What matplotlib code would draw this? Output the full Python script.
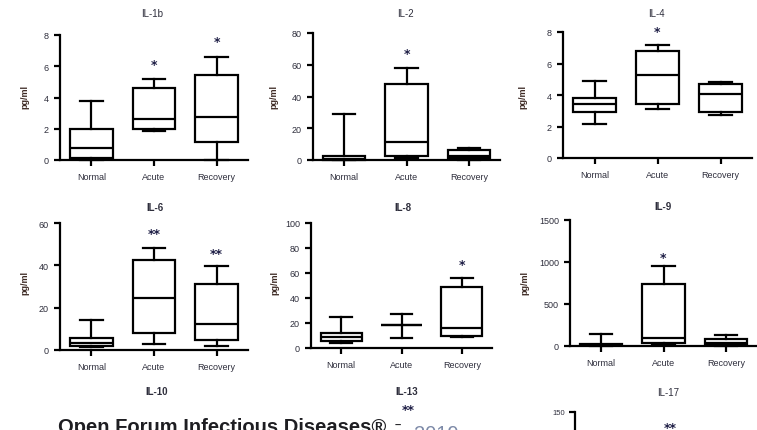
import matplotlib
matplotlib.use('Agg')
import matplotlib.pyplot as plt

plt.rcParams['font.family'] = ['Liberation Sans', 'DejaVu Sans']

# groups on the x axis
groups = ['Normal', 'Acute', 'Recovery']

# box stats per group: [whisker low, q1, median, q3, whisker high]  (pg/ml)
il1b = [[0.0, 0.1, 0.77, 1.96, 3.76],
        [1.83, 1.96, 2.6, 4.58, 5.18],
        [0.0, 1.18, 2.75, 5.44, 6.6]]
il2 = [[0.0, 0.2, 0.6, 2.7, 29.0],
       [1.0, 2.7, 11.6, 47.9, 58.0],
       [0.2, 1.0, 2.6, 6.5, 7.8]]
il4 = [[2.17, 2.95, 3.44, 3.84, 4.88],
       [3.08, 3.44, 5.24, 6.77, 7.15],
       [2.7, 2.91, 4.08, 4.71, 4.82]]
il6 = [[1.2, 1.9, 3.5, 5.7, 14.1],
       [3.0, 7.8, 24.5, 42.7, 48.3],
       [1.9, 4.6, 12.2, 31.2, 39.9]]
il8 = [[3.7, 5.9, 9.0, 11.7, 24.5],
       [8.0, 18.2, 18.2, 18.2, 27.2],
       [8.5, 9.9, 16.0, 48.5, 56.0]]
il9 = [[0.0, 8.0, 16.0, 28.0, 147.0],
       [15.0, 40.0, 95.0, 742.0, 952.0],
       [0.0, 12.0, 40.0, 79.0, 127.0]]

# significance marks and their height (data units)
il1b_marks = ['', '*', '*']
il1b_mark_y = [0, 6.1, 7.6]
il2_marks = ['', '*', '']
il2_mark_y = [0, 67, 0]
il4_marks = ['', '*', '']
il4_mark_y = [0, 8.05, 0]
il6_marks = ['', '**', '**']
il6_mark_y = [0, 55, 45.4]
il8_marks = ['', '', '*']
il8_mark_y = [0, 0, 67]
il9_marks = ['', '*', '']
il9_mark_y = [0, 1052, 0]

# IL-17 panel: only the top of its axis is on the page
il17_ymax = 150

W, H = 757, 431
fig = plt.figure(figsize=(W / 100, H / 100), dpi=100)

TXT = '#2e2e3c'
LAB = '#3d2a24'
STAR = '#1c1c44'


def px_axes(left, top, right, bottom):
    return fig.add_axes([left / W, 1 - bottom / H, (right - left) / W, (bottom - top) / H])


def ftext(x, y, s, **kw):
    return fig.text(x / W, 1 - y / H, s, **kw)


# title, data, marks, mark heights, yticks, axes box in px, title pos, ylabel pos
panels = [
    ('IL-1b', il1b, il1b_marks, il1b_mark_y, [0, 2, 4, 6, 8], (60, 36, 248, 161), (152, 14), (25, 97), 'normal'),
    ('IL-2', il2, il2_marks, il2_mark_y, [0, 20, 40, 60, 80], (313, 34, 500, 161), (405, 14), (274, 97), 'normal'),
    ('IL-4', il4, il4_marks, il4_mark_y, [0, 2, 4, 6, 8], (563, 33, 752, 159), (656, 14), (523, 97), 'normal'),
    ('IL-6', il6, il6_marks, il6_mark_y, [0, 20, 40, 60], (60, 224, 248, 351), (155, 208), (25, 283), 'bold'),
    ('IL-8', il8, il8_marks, il8_mark_y, [0, 20, 40, 60, 80, 100], (311, 224, 492, 349), (403, 208), (275, 283), 'bold'),
    ('IL-9', il9, il9_marks, il9_mark_y, [0, 500, 1000, 1500], (570, 221, 757, 347), (663, 207), (525, 283), 'bold'),
]

for title, data, marks, mark_y, yticks, box, tpos, lpos, tw in panels:
    ax = px_axes(*box)
    stats = [dict(whislo=s[0], q1=s[1], med=s[2], q3=s[3], whishi=s[4]) for s in data]
    arts = ax.bxp(stats, positions=[1, 2, 3], widths=0.68, capwidths=0.36,
                  showfliers=False, patch_artist=True,
                  boxprops=dict(facecolor='white', edgecolor='black', linewidth=1.6),
                  medianprops=dict(color='black', linewidth=1.6),
                  whiskerprops=dict(color='black', linewidth=1.6),
                  capprops=dict(color='black', linewidth=1.6))
    for group in arts.values():
        for a in group:
            a.set_clip_on(False)
    for i, (m, y) in enumerate(zip(marks, mark_y)):
        if m:
            ax.text(i + 1, y, m, ha='center', va='center', fontsize=9,
                    fontweight='bold', color=STAR, family='DejaVu Sans')
    ax.set_xlim(0.5, 3.5)
    ax.set_ylim(0, yticks[-1])
    ax.set_yticks(yticks)
    ax.set_xticks([1, 2, 3], groups)
    for sp in ['top', 'right']:
        ax.spines[sp].set_visible(False)
    for sp in ['left', 'bottom']:
        ax.spines[sp].set_linewidth(1.6)
    ax.tick_params(axis='both', direction='out', length=4, width=1.6,
                   labelsize=6.5, labelcolor=TXT, pad=4)
    ax.tick_params(axis='x', pad=5)
    ax.patch.set_alpha(0)
    ftext(tpos[0], tpos[1], title, ha='center', va='center', fontsize=7,
          fontweight=tw, color=TXT)
    ftext(lpos[0], lpos[1], 'pg/ml', ha='center', va='center', rotation=90,
          fontsize=6.5, fontweight='bold', color=LAB)

# bottom row, cut off by the page edge
ftext(157, 392, 'IL-10', ha='center', va='center', fontsize=7, fontweight='bold', color=TXT)
ftext(407, 392, 'IL-13', ha='center', va='center', fontsize=7, fontweight='bold', color=TXT)
ftext(668, 393, 'IL-17', ha='center', va='center', fontsize=7, color=TXT)
ftext(408, 411, '**', ha='center', va='center', fontsize=9, fontweight='bold',
      color=STAR, family='DejaVu Sans')
ftext(670, 429, '**', ha='center', va='center', fontsize=9, fontweight='bold',
      color=STAR, family='DejaVu Sans')

ax17 = px_axes(575, 413, 757, 539)
ax17.set_ylim(0, il17_ymax)
ax17.set_yticks([il17_ymax])
ax17.set_xticks([])
for sp in ['top', 'right', 'bottom']:
    ax17.spines[sp].set_visible(False)
ax17.spines['left'].set_linewidth(1.6)
ax17.tick_params(axis='y', length=4, width=1.6, labelsize=5.5, labelcolor=TXT, pad=3)
ax17.patch.set_alpha(0)

# journal header printed over the figure
ftext(58, 433, 'Open Forum Infectious Diseases\u00ae', ha='left', va='baseline',
      fontsize=14.5, fontweight='bold', color='#1e1e22')
ftext(395, 426, '\u2013', ha='left', va='center', fontsize=8, fontweight='bold', color='#1e1e22')
ftext(414, 440, '2019', ha='left', va='baseline', fontsize=14.5, color='#7d8aa8')

fig.savefig('out.png', dpi=100)
